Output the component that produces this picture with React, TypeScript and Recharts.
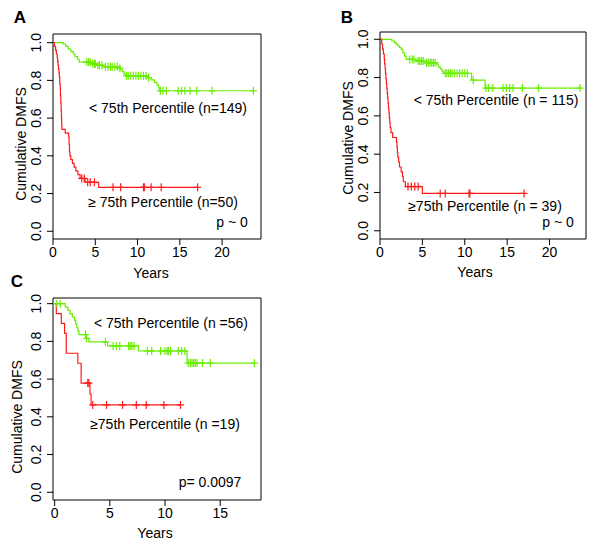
import React from "react";
import { LineChart, Line, XAxis, YAxis, ReferenceArea } from "recharts";

const FONT = "'Liberation Sans', Arial, Helvetica, sans-serif";
const GREEN = "#69EE00";
const RED = "#FF1A1A";

// ---------- data (event times / survival, censor times) ----------

const A_LOW_T = [0, 1.2, 1.5, 1.8, 2.1, 2.4, 2.6, 2.9, 3.1, 4.6, 5.2, 6.0, 7.8, 8.0, 8.2, 8.4, 8.6, 11.2, 11.6, 12.0, 12.3, 12.5, 12.6];
const A_LOW_S = [1, 0.993, 0.98, 0.966, 0.953, 0.94, 0.926, 0.912, 0.897, 0.888, 0.88, 0.872, 0.864, 0.855, 0.846, 0.835, 0.824, 0.814, 0.803, 0.79, 0.775, 0.76, 0.745];
const A_LOW_CENS = [4.0, 4.2, 4.4, 4.7, 4.9, 5.0, 5.3, 5.5, 5.8, 6.2, 6.5, 6.8, 7.0, 7.3, 7.6, 7.9, 8.7, 8.9, 9.2, 9.5, 9.8, 10.1, 10.4, 10.7, 11.0, 11.3, 12.7, 13.0, 13.4, 14.8, 15.2, 15.6, 16.2, 17.0, 18.8, 23.7];

const A_HIGH_T = [0, 0.15, 0.3, 0.4, 0.5, 0.55, 0.6, 0.65, 0.7, 0.75, 0.8, 0.85, 0.88, 0.92, 0.96, 1.0, 1.03, 1.06, 1.45, 1.85, 1.9, 1.95, 2.0, 2.1, 2.3, 2.5, 2.7, 2.95, 3.2, 3.8, 5.4];
const A_HIGH_S = [1, 0.98, 0.96, 0.94, 0.92, 0.9, 0.88, 0.86, 0.84, 0.82, 0.78, 0.76, 0.72, 0.68, 0.64, 0.6, 0.56, 0.54, 0.52, 0.5, 0.46, 0.42, 0.4, 0.38, 0.36, 0.34, 0.32, 0.3, 0.28, 0.26, 0.233];
const A_HIGH_CENS = [3.4, 3.7, 4.1, 4.4, 4.9, 7.1, 8.0, 10.7, 10.8, 11.6, 12.8, 17.1];

const B_LOW_T = [0, 1.4, 1.7, 1.9, 2.1, 2.3, 2.5, 2.7, 2.9, 3.1, 4.2, 5.3, 6.7, 6.9, 7.1, 7.3, 7.5, 10.8, 12.4];
const B_LOW_S = [1, 0.991, 0.982, 0.973, 0.965, 0.956, 0.947, 0.929, 0.912, 0.895, 0.886, 0.877, 0.867, 0.856, 0.845, 0.834, 0.822, 0.787, 0.745];
const B_LOW_CENS = [3.5, 3.8, 4.0, 4.5, 4.7, 4.9, 5.1, 5.5, 5.7, 5.9, 6.1, 6.3, 6.5, 7.7, 7.9, 8.1, 8.3, 8.5, 8.8, 9.1, 9.4, 9.7, 10.0, 10.3, 11.0, 12.5, 12.8, 13.3, 14.5, 14.9, 15.3, 15.7, 16.8, 18.7, 23.6];

const B_HIGH_T = [0, 0.2, 0.3, 0.4, 0.5, 0.55, 0.6, 0.65, 0.7, 0.75, 0.8, 0.85, 0.9, 0.95, 1.0, 1.05, 1.1, 1.15, 1.2, 1.3, 1.5, 1.95, 2.0, 2.05, 2.1, 2.2, 2.3, 2.5, 2.65, 2.75, 3.0, 5.0];
const B_HIGH_S = [1, 0.974, 0.949, 0.923, 0.897, 0.872, 0.846, 0.82, 0.795, 0.769, 0.744, 0.718, 0.692, 0.667, 0.641, 0.615, 0.59, 0.564, 0.538, 0.513, 0.487, 0.462, 0.436, 0.41, 0.385, 0.359, 0.333, 0.308, 0.282, 0.256, 0.231, 0.195];
const B_HIGH_CENS = [3.3, 3.7, 4.1, 4.5, 7.1, 7.7, 10.5, 10.6, 17.0];

const C_LOW_T = [0, 0.95, 1.2, 1.4, 1.6, 1.8, 1.9, 2.0, 2.1, 2.2, 2.85, 3.1, 4.8, 7.6, 12.0];
const C_LOW_S = [1, 0.982, 0.964, 0.946, 0.929, 0.911, 0.893, 0.875, 0.857, 0.836, 0.816, 0.797, 0.776, 0.749, 0.685];
const C_LOW_CENS = [0.2, 0.5, 2.8, 2.9, 4.6, 5.3, 5.6, 5.9, 6.7, 6.85, 7.0, 7.2, 8.4, 8.8, 9.6, 10.0, 10.2, 10.3, 10.5, 11.2, 11.5, 11.8, 12.1, 12.3, 12.45, 12.6, 12.75, 12.9, 13.4, 14.1, 18.1];

const C_HIGH_T = [0, 0.15, 0.6, 0.9, 1.05, 2.1, 2.4, 3.2, 3.3];
const C_HIGH_S = [1, 0.947, 0.895, 0.842, 0.737, 0.684, 0.579, 0.521, 0.463];
const C_HIGH_CENS = [3.0, 3.1, 3.45, 4.7, 6.15, 7.4, 8.3, 9.9, 11.4];

const Y_TICKS = [0, 0.2, 0.4, 0.6, 0.8, 1.0];

// ---------- helpers ----------

function kmSeries(times: number[], surv: number[], cens: number[]) {
  const pts = times.map((t, i) => ({ t, s: surv[i], c: false }));
  cens.forEach((t) => {
    let s = 1;
    times.forEach((et, i) => {
      if (et <= t) s = surv[i];
    });
    pts.push({ t, s, c: true });
  });
  pts.sort((a, b) => a.t - b.t || (a.c ? 1 : 0) - (b.c ? 1 : 0));
  return pts;
}

const plusDot = (color: string) => (props: any) => {
  const { cx, cy, payload, index } = props;
  if (!payload || !payload.c) return <g key={`e-${index}`} />;
  return (
    <g key={`c-${index}`} stroke={color} strokeWidth={1.2}>
      <line x1={cx} x2={cx} y1={cy - 4} y2={cy + 4} />
      <line x1={cx - 3.5} x2={cx + 3.5} y1={cy} y2={cy} />
    </g>
  );
};

const YTick = (props: any) => {
  const { x, y, payload } = props;
  const bx = x - 4;
  return (
    <text
      x={bx}
      y={y}
      transform={`rotate(-90, ${bx}, ${y})`}
      textAnchor="middle"
      fontSize={14}
      fontFamily={FONT}
      fill="#000"
    >
      {payload.value.toFixed(1)}
    </text>
  );
};

const XTick = (props: any) => {
  const { x, y, payload } = props;
  return (
    <text x={x} y={y + 10} textAnchor="middle" fontSize={14} fontFamily={FONT} fill="#000">
      {payload.value}
    </text>
  );
};

interface Note {
  text: string;
  x: number;
  y: number;
  rotate?: boolean;
  bold?: boolean;
  size?: number;
}

interface PanelProps {
  left: number;
  top: number;
  width: number;
  height: number;
  box: { l: number; t: number; r: number; b: number };
  xDomain: [number, number];
  yDomain: [number, number];
  xTicks: number[];
  low: { t: number; s: number; c: boolean }[];
  high: { t: number; s: number; c: boolean }[];
  notes: Note[];
}

function KMPanel(p: PanelProps) {
  const margin = {
    left: p.box.l - 1,
    top: p.box.t,
    right: p.width - p.box.r,
    bottom: p.height - p.box.b - 1,
  };
  return (
    <div style={{ position: "absolute", left: p.left, top: p.top }}>
      <LineChart width={p.width} height={p.height} margin={margin}>
        <XAxis
          type="number"
          dataKey="t"
          domain={p.xDomain}
          ticks={p.xTicks}
          allowDataOverflow
          height={1}
          axisLine={false}
          stroke="#000"
          tickSize={6}
          tickMargin={2}
          tick={<XTick />}
        />
        <YAxis
          type="number"
          domain={p.yDomain}
          ticks={Y_TICKS}
          allowDataOverflow
          width={1}
          axisLine={false}
          stroke="#000"
          tickSize={6}
          tickMargin={2}
          tick={<YTick />}
        />
        <ReferenceArea
          x1={p.xDomain[0]}
          x2={p.xDomain[1]}
          y1={p.yDomain[0]}
          y2={p.yDomain[1]}
          fill="none"
          fillOpacity={0}
          stroke="#000"
          strokeWidth={1}
          ifOverflow="visible"
        />
        <Line
          data={p.low}
          dataKey="s"
          type="stepAfter"
          stroke={GREEN}
          strokeWidth={1.2}
          dot={plusDot(GREEN)}
          activeDot={false}
          isAnimationActive={false}
          name="< 75th Percentile"
        />
        <Line
          data={p.high}
          dataKey="s"
          type="stepAfter"
          stroke={RED}
          strokeWidth={1.2}
          dot={plusDot(RED)}
          activeDot={false}
          isAnimationActive={false}
          name="≥ 75th Percentile"
        />
        {p.notes.map((n, i) => (
          <text
            key={i}
            x={n.x}
            y={n.y}
            textAnchor="middle"
            fontSize={n.size ?? 14}
            fontWeight={n.bold ? "bold" : "normal"}
            fontFamily={FONT}
            fill="#000"
            transform={n.rotate ? `rotate(-90, ${n.x}, ${n.y})` : undefined}
          >
            {n.text}
          </text>
        ))}
      </LineChart>
    </div>
  );
}

export default function App() {
  return (
    <div style={{ position: "absolute", left: 0, top: 0, width: 600, height: 547, background: "#fff" }}>
      <KMPanel
        left={0}
        top={0}
        width={300}
        height={280}
        box={{ l: 53, t: 34, r: 261, b: 239 }}
        xDomain={[0, 24.6]}
        yDomain={[-0.041, 1.046]}
        xTicks={[0, 5, 10, 15, 20]}
        low={kmSeries(A_LOW_T, A_LOW_S, A_LOW_CENS)}
        high={kmSeries(A_HIGH_T, A_HIGH_S, A_HIGH_CENS)}
        notes={[
          { text: "A", x: 20, y: 23, bold: true, size: 17 },
          { text: "< 75th Percentile (n=149)", x: 168, y: 113 },
          { text: "≥ 75th Percentile (n=50)", x: 163, y: 207 },
          { text: "p ~ 0", x: 232, y: 227 },
          { text: "Years", x: 151, y: 278 },
          { text: "Cumulative DMFS", x: 26, y: 144, rotate: true },
        ]}
      />
      <KMPanel
        left={300}
        top={0}
        width={300}
        height={280}
        box={{ l: 80, t: 32, r: 286, b: 239 }}
        xDomain={[0, 24.3]}
        yDomain={[-0.043, 1.038]}
        xTicks={[0, 5, 10, 15, 20]}
        low={kmSeries(B_LOW_T, B_LOW_S, B_LOW_CENS)}
        high={kmSeries(B_HIGH_T, B_HIGH_S, B_HIGH_CENS)}
        notes={[
          { text: "B", x: 47, y: 23, bold: true, size: 17 },
          { text: "< 75th Percentile (n = 115)", x: 196, y: 105 },
          { text: "≥75th Percentile (n = 39)", x: 185, y: 211 },
          { text: "p ~ 0", x: 258, y: 227 },
          { text: "Years", x: 175, y: 277 },
          { text: "Cumulative DMFS", x: 53, y: 138, rotate: true },
        ]}
      />
      <KMPanel
        left={0}
        top={268}
        width={300}
        height={279}
        box={{ l: 53, t: 30, r: 261, b: 232 }}
        xDomain={[-0.15, 18.7]}
        yDomain={[-0.041, 1.03]}
        xTicks={[0, 5, 10, 15]}
        low={kmSeries(C_LOW_T, C_LOW_S, C_LOW_CENS)}
        high={kmSeries(C_HIGH_T, C_HIGH_S, C_HIGH_CENS)}
        notes={[
          { text: "C", x: 17, y: 19, bold: true, size: 17 },
          { text: "< 75th Percentile (n =56)", x: 171, y: 60 },
          { text: "≥75th Percentile (n =19)", x: 165, y: 161 },
          { text: "p= 0.0097", x: 210, y: 219 },
          { text: "Years", x: 155, y: 270 },
          { text: "Cumulative DMFS", x: 22, y: 149, rotate: true },
        ]}
      />
    </div>
  );
}
